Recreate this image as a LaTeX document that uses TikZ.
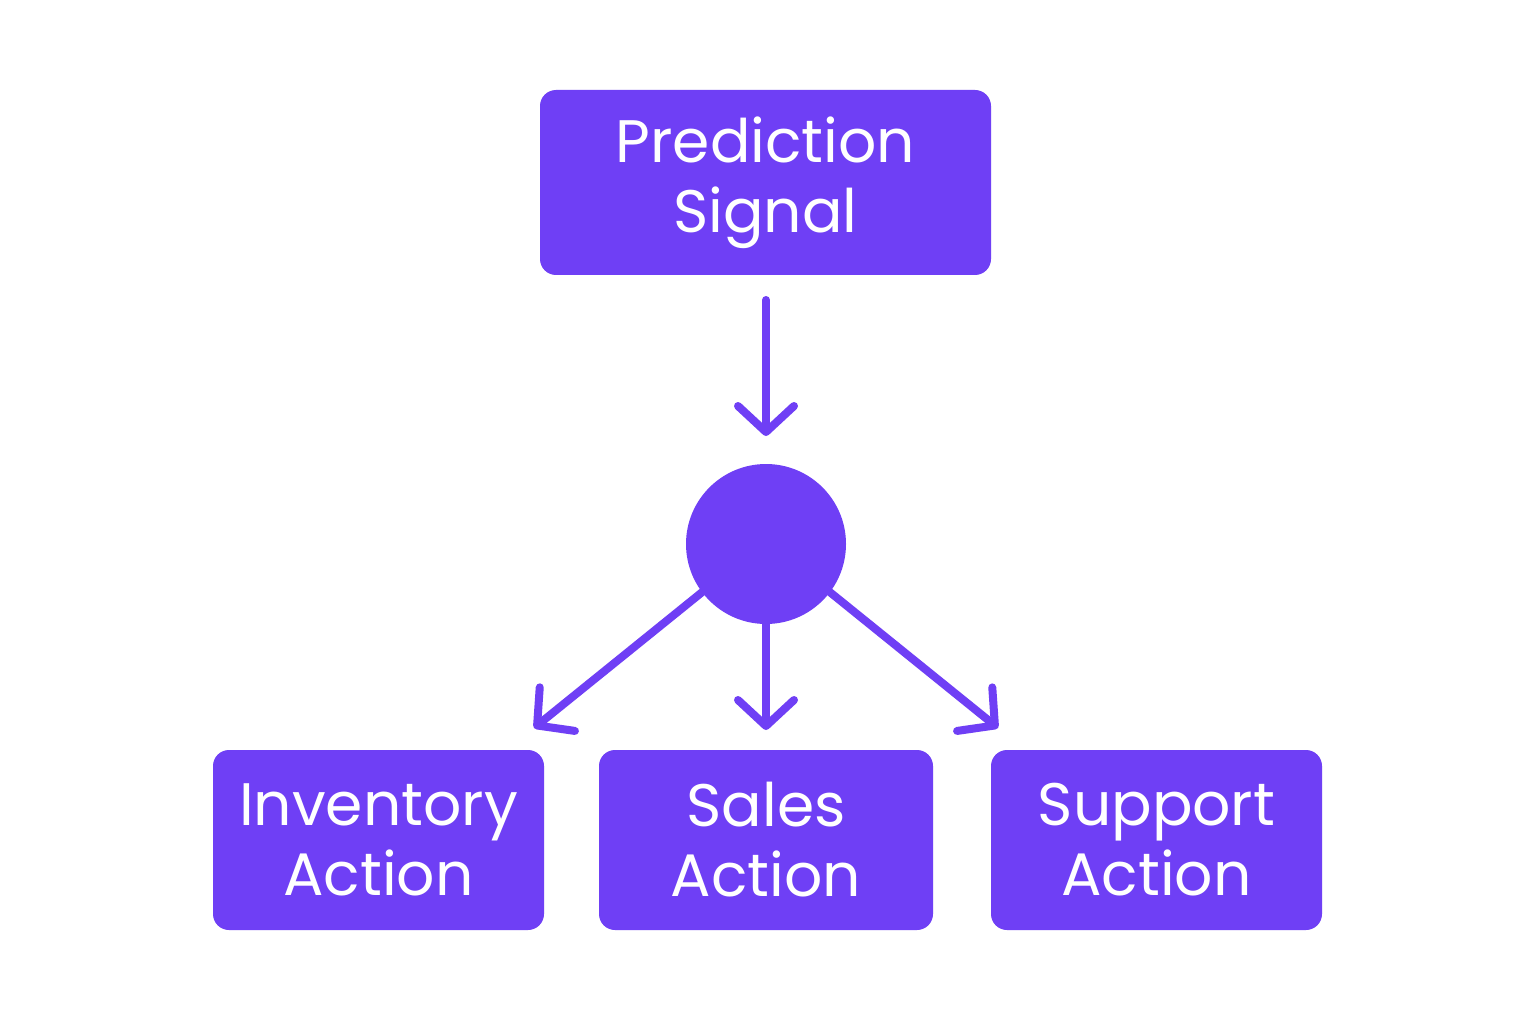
\documentclass[tikz,border=0pt]{standalone}
\usepackage{fontspec}
\setmainfont{Poppins}
\usetikzlibrary{arrows.meta}
\definecolor{vio}{HTML}{6F3FF5}
\begin{document}
\begin{tikzpicture}[x=1pt,y=-1pt,
 box/.style={fill=vio,rounded corners=16pt,text=white,font=\fontsize{60}{70}\selectfont,align=center,inner sep=0pt},
 arr/.style={draw=vio,line width=8pt,line cap=round,-{Straight Barb[length=26pt,width=56pt,line cap=round,line join=round]}}]
\useasboundingbox (0,0) rectangle (1536,1024);
\fill[white] (0,0) rectangle (1536,1024);
\node[box,minimum width=451pt,minimum height=185pt] (pred) at (765.5,182.5) {Prediction\\Signal};
\node[circle,fill=vio,minimum size=160pt,inner sep=0pt] (hub) at (766,544) {};
\node[box,minimum width=331pt,minimum height=180pt] (inv) at (378.5,840) {Inventory\\Action};
\node[box,minimum width=334pt,minimum height=180pt] (sal) at (766,840) {Sales\\Action};
\node[box,minimum width=331pt,minimum height=180pt] (sup) at (1156.5,840) {Support\\Action};
\coordinate (a1) at (766,300); \coordinate (a2) at (766,436);
\coordinate (i2) at (534,728); \coordinate (s2) at (766,730); \coordinate (u2) at (998,728);
\draw[arr] (a1) -- (a2);
\draw[arr] (hub.-143) -- (i2);
\draw[arr] (hub.south) -- (s2);
\draw[arr] (hub.-37) -- (u2);
\end{tikzpicture}
\end{document}
